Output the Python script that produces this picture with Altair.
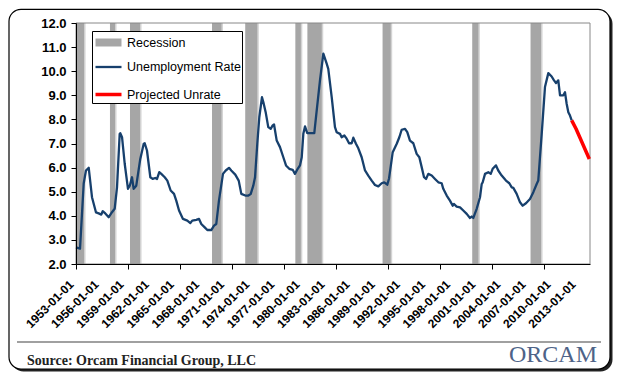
import altair as alt
import pandas as pd

# ---- data ----
HIST_YEARS = [1953.00, 1953.48, 1953.92, 1954.19, 1954.52, 1954.91, 1955.39, 1955.71, 1956.02, 1956.19,
              1956.50, 1956.91, 1957.30, 1957.62, 1957.90, 1958.22, 1958.29, 1958.50, 1958.82, 1959.21,
              1959.42, 1959.69, 1959.89, 1960.20, 1960.68, 1961.09, 1961.21, 1961.48, 1961.88, 1962.16,
              1962.47, 1962.68, 1962.95, 1963.19, 1963.60, 1963.91, 1964.31, 1964.71, 1964.98, 1965.31,
              1965.78, 1966.30, 1966.66, 1966.89, 1967.37, 1967.70, 1967.97, 1968.38, 1968.69, 1969.16,
              1969.49, 1969.76, 1970.08, 1970.56, 1970.89, 1971.28, 1971.55, 1972.03, 1972.44, 1972.75,
              1973.23, 1973.59, 1973.87, 1974.18, 1974.39, 1974.66, 1974.90, 1975.22, 1975.38, 1975.66,
              1975.97, 1976.26, 1976.50, 1976.66, 1976.98, 1977.37, 1977.77, 1978.09, 1978.48, 1978.89,
              1979.16, 1979.49, 1979.76, 1979.97, 1980.16, 1980.36, 1980.63, 1981.47, 1981.76, 1982.15,
              1982.55, 1982.95, 1983.14, 1983.55, 1983.94, 1984.14, 1984.54, 1984.74, 1985.06, 1985.34,
              1985.62, 1985.94, 1986.13, 1986.45, 1986.73, 1987.13, 1987.53, 1987.92, 1988.33, 1988.72,
              1989.12, 1989.52, 1989.83, 1990.19, 1990.40, 1990.84, 1991.32, 1991.63, 1991.91, 1992.31,
              1992.58, 1992.90, 1993.30, 1993.70, 1994.02, 1994.30, 1994.58, 1994.82, 1995.09, 1995.50,
              1995.89, 1996.29, 1996.69, 1996.88, 1997.29, 1997.68, 1998.01, 1998.16, 1998.48, 1998.88,
              1999.27, 1999.68, 2000.07, 2000.28, 2000.47, 2000.87, 2001.27, 2001.47, 2001.59, 2001.87,
              2002.26, 2002.55, 2002.78, 2003.18, 2003.45, 2003.86, 2004.37, 2004.77, 2005.06, 2005.25,
              2005.65, 2006.05, 2006.37, 2006.76, 2007.24, 2007.64, 2008.04, 2008.23, 2008.64, 2009.03,
              2009.43, 2009.83, 2010.11, 2010.35, 2010.62, 2010.83, 2011.22, 2011.42, 2011.62, 2011.82,
              2012.02, 2012.22]
HIST_RATE = [2.69, 2.64, 5.34, 5.88, 5.99, 4.77, 4.14, 4.10, 4.05, 4.19,
             4.10, 3.94, 4.15, 4.29, 5.18, 7.40, 7.43, 7.26, 6.16, 5.12,
             5.25, 5.60, 5.12, 5.25, 6.36, 6.99, 7.01, 6.71, 5.60, 5.53,
             5.57, 5.53, 5.81, 5.74, 5.60, 5.46, 5.05, 4.91, 4.63, 4.22,
             3.87, 3.80, 3.70, 3.80, 3.83, 3.87, 3.66, 3.52, 3.41, 3.41,
             3.59, 3.66, 4.63, 5.74, 5.88, 5.99, 5.88, 5.71, 5.46, 4.91,
             4.84, 4.84, 4.90, 5.25, 5.60, 6.99, 8.09, 8.92, 8.72, 8.30,
             7.68, 7.61, 7.75, 7.79, 7.12, 6.85, 6.43, 6.09, 5.95, 5.91,
             5.74, 5.95, 6.09, 6.43, 7.40, 7.71, 7.43, 7.43, 8.37, 9.62,
             10.73, 10.31, 10.10, 8.92, 7.68, 7.47, 7.40, 7.26, 7.33, 7.20,
             7.01, 7.01, 7.24, 6.99, 6.80, 6.43, 5.88, 5.67, 5.46, 5.28,
             5.22, 5.35, 5.39, 5.29, 5.55, 6.64, 6.99, 7.26, 7.57, 7.61,
             7.47, 7.12, 7.01, 6.57, 6.43, 6.02, 5.60, 5.53, 5.74, 5.67,
             5.53, 5.39, 5.35, 5.12, 4.84, 4.63, 4.42, 4.49, 4.38, 4.35,
             4.22, 4.08, 3.91, 3.97, 3.91, 4.29, 4.77, 5.32, 5.39, 5.74,
             5.81, 5.74, 5.95, 6.09, 5.88, 5.67, 5.46, 5.35, 5.18, 5.16,
             4.91, 4.56, 4.42, 4.52, 4.70, 4.98, 5.32, 5.46, 7.40, 9.34,
             9.92, 9.78, 9.62, 9.51, 9.62, 9.00, 9.00, 9.13, 8.65, 8.30,
             8.16, 7.96]
PROJ_YEARS = [2012.22, 2012.74, 2014.33]
PROJ_RATE = [7.96, 7.61, 6.36]

REC_START = [1953.00, 1957.06, 1959.45, 1969.25, 1973.23, 1979.22, 1980.66, 1989.64, 2000.35, 2007.32]
REC_END = [1953.96, 1957.66, 1960.65, 1970.38, 1974.66, 1979.86, 1982.36, 1990.60, 2001.07, 2008.56]

LABEL_YEARS = list(range(1953, 2014, 3))
TICK_YEARS = [1953, 1959.21, 1965.43, 1971.64, 1977.85, 1984.06, 1990.28, 1996.49, 2002.70, 2008.92]
Y_TICKS = [2, 3, 4, 5, 6, 7, 8, 9, 10, 11, 12]
X_DOMAIN = [1953, 2014.41]

SERIES = ["Recession", "Unemployment Rate", "Projected Unrate"]
COLORS = ["#A6A6A6", "#17406D", "#FF0000"]
WIDTHS = [8, 2.3, 3.5]

SOURCE = "Source: Orcam Financial Group, LLC"
LOGO = "ORCAM"

# ---- tables ----
line_df = pd.DataFrame(
    {"year": HIST_YEARS + PROJ_YEARS,
     "rate": HIST_RATE + PROJ_RATE,
     "series": [SERIES[1]] * len(HIST_YEARS) + [SERIES[2]] * len(PROJ_YEARS)}
)
rec_df = pd.DataFrame({"start": REC_START, "end": REC_END})

FONT = "Liberation Sans"
W, H = 514, 241
xscale = alt.Scale(domain=X_DOMAIN, nice=False, zero=False)
yscale = alt.Scale(domain=[2, 12], nice=False, zero=False)

all_x = sorted(set(LABEL_YEARS) | set(TICK_YEARS))
label_list = "[" + ",".join(str(v) for v in LABEL_YEARS) + "]"
tick_list = "[" + ",".join(str(v) for v in TICK_YEARS) + "]"

x_axis = alt.Axis(
    values=all_x,
    title=None,
    labelExpr=f"indexof({label_list}, datum.value) >= 0 ? datum.value + '-01-01' : ''",
    labelAngle=-45,
    labelAlign="right",
    labelBaseline="bottom",
    labelFont=FONT,
    labelFontSize=12,
    labelFontWeight="bold",
    labelColor="black",
    labelPadding=18,
    labelOverlap=False,
    labelFlush=False,
    tickSize=5,
    tickColor="black",
    tickOpacity={"condition": {"test": f"indexof({tick_list}, datum.value) >= 0", "value": 1}, "value": 0},
    domainColor="black",
    grid=False,
    zindex=2,
)
y_axis = alt.Axis(
    values=Y_TICKS,
    title=None,
    format=".1f",
    labelFont=FONT,
    labelFontSize=13,
    labelFontWeight="bold",
    labelColor="black",
    labelPadding=5,
    tickSize=5,
    tickColor="black",
    domainColor="black",
    grid=False,
    zindex=2,
)

legend = alt.Legend(
    title=None,
    orient="none",
    legendX=16,
    legendY=8,
    strokeColor="black",
    fillColor="white",
    padding=1,
    gridAlign="all",
    symbolType="M-2,0H2",
    symbolSize=169,
    symbolOffset=5,
    labelOffset=8,
    labelFont=FONT,
    labelFontSize=12.5,
    labelColor="black",
    rowPadding=0,
)

deco = pd.DataFrame({"k": [0]})

shadow = alt.Chart(deco).mark_rect(cornerRadius=12, fill="#222222").encode(
    x=alt.value(-64.5), x2=alt.value(536.5), y=alt.value(-11.2), y2=alt.value(348.5))
frame = alt.Chart(deco).mark_rect(cornerRadius=12, fill="white", stroke="black", strokeWidth=1.2).encode(
    x=alt.value(-67), x2=alt.value(534), y=alt.value(-13.7), y2=alt.value(346))
sep = alt.Chart(deco).mark_rule(stroke="#A0A0A0", strokeWidth=2).encode(
    x=alt.value(-59), x2=alt.value(525), y=alt.value(319))

rec_light = alt.Chart(rec_df).mark_rect(color="#D3D3D3", x2Offset=1.5).encode(
    x=alt.X("start:Q", scale=xscale, axis=x_axis), x2="end:Q")
rec = alt.Chart(rec_df).mark_rect(color=COLORS[0]).encode(
    x=alt.X("start:Q", scale=xscale, axis=x_axis), x2="end:Q")

border = alt.Chart(deco).mark_rect(fillOpacity=0, stroke="#888888", strokeWidth=1).encode(
    x=alt.value(0), x2=alt.value(W), y=alt.value(0), y2=alt.value(H))

line = alt.Chart(line_df).mark_line(strokeJoin="round").encode(
    x=alt.X("year:Q", scale=xscale, axis=x_axis),
    y=alt.Y("rate:Q", scale=yscale, axis=y_axis),
    color=alt.Color("series:N", scale=alt.Scale(domain=SERIES, range=COLORS), legend=legend),
    strokeWidth=alt.StrokeWidth("series:N", scale=alt.Scale(type="ordinal", domain=SERIES, range=WIDTHS), legend=legend),
    order="year:Q",
)

src = alt.Chart(deco).mark_text(text=SOURCE, align="left", baseline="alphabetic", font="Liberation Serif",
                                fontSize=14, fontWeight="bold", color="#222222").encode(
    x=alt.value(-49), y=alt.value(342.3))
logo = alt.Chart(deco).mark_text(text=LOGO, align="right", baseline="alphabetic", font="Liberation Serif",
                                 fontSize=24, color="#4E6388").encode(
    x=alt.value(521), y=alt.value(339.3))

chart = alt.layer(shadow, frame, rec_light, rec, border, line, sep, src, logo).properties(
    width=W,
    height=H,
    padding={"left": 68, "top": 15, "right": 23, "bottom": 108},
    autosize=alt.AutoSizeParams(type="none"),
).configure_view(stroke=None)

chart.save("out.html", embed_options={"renderer": "svg", "actions": False})
